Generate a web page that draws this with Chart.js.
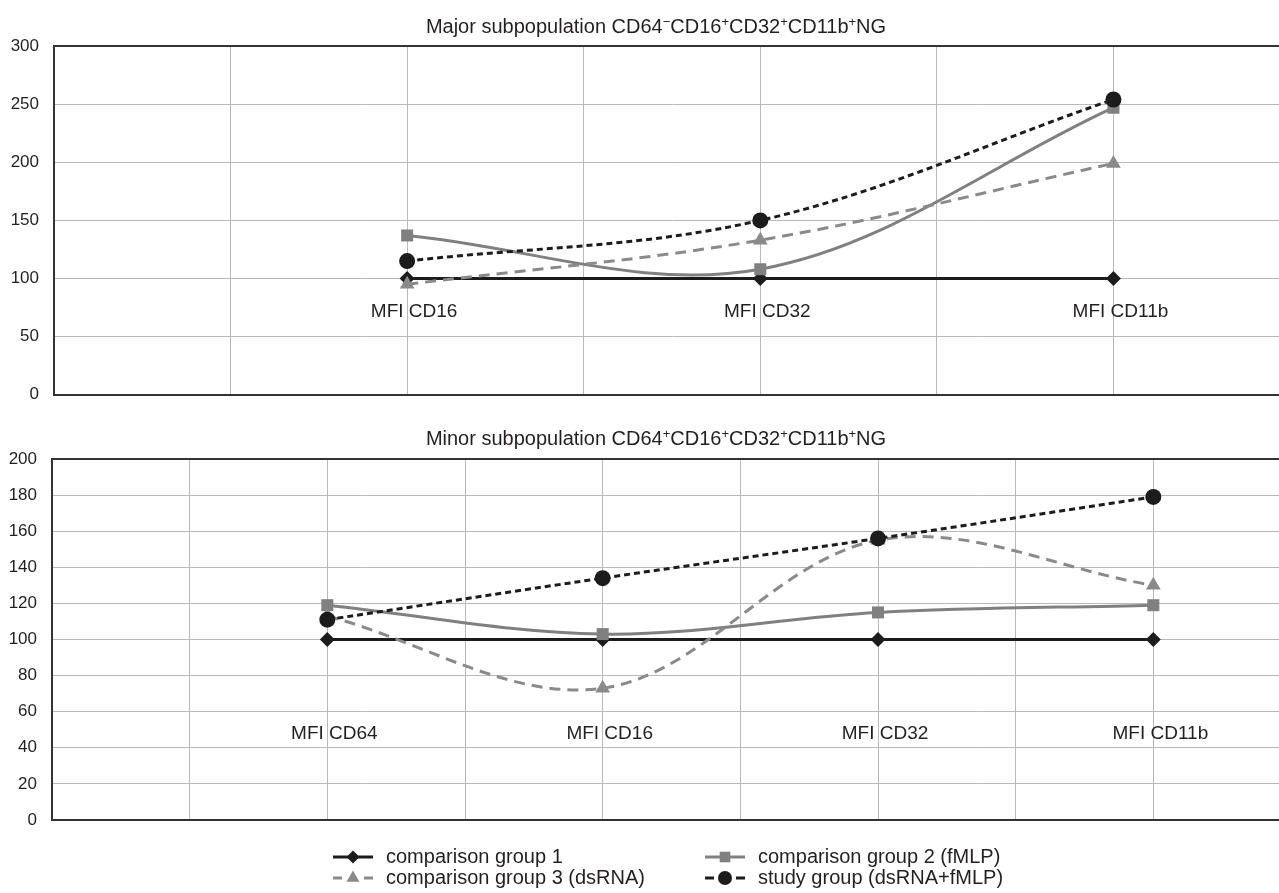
<!DOCTYPE html>
<html>
<head>
<meta charset="utf-8">
<title>MFI subpopulations</title>
<style>
  html, body { margin: 0; padding: 0; background: #fff; overflow: hidden; }
  #wrap { position: relative; width: 1279px; height: 893px; overflow: hidden; }
  canvas { position: absolute; left: 0; }
</style>
</head>
<body>
<div id="wrap">
  <canvas id="major" width="1300" height="420" style="top:0"></canvas>
  <canvas id="minor" width="1300" height="473" style="top:420px"></canvas>
</div>

<script src="https://cdn.jsdelivr.net/npm/chart.js"></script>
<script>
// major subpopulation (top panel)
const majorLabels = ["MFI CD16", "MFI CD32", "MFI CD11b"];
const majorX = [2, 4, 6];
const majorGroup1 = [100, 100, 100];
const majorGroup2 = [137, 108, 247];
const majorGroup3 = [95, 133, 199];
const majorStudy = [115, 150, 254];

// minor subpopulation (bottom panel)
const minorLabels = ["MFI CD64", "MFI CD16", "MFI CD32", "MFI CD11b"];
const minorX = [2, 4, 6, 8];
const minorGroup1 = [100, 100, 100, 100];
const minorGroup2 = [119, 103, 115, 119];
const minorGroup3 = [113, 73, 155, 130];
const minorStudy = [111, 134, 156, 179];

const seriesNames = ["comparison group 1", "comparison group 2 (fMLP)", "comparison group 3 (dsRNA)", "study group (dsRNA+fMLP)"];

const majorTitle = [["Major subpopulation CD64", false], ["\u2212", true], ["CD16", false], ["+", true], ["CD32", false], ["+", true], ["CD11b", false], ["+", true], ["NG", false]];
const minorTitle = [["Minor subpopulation CD64", false], ["+", true], ["CD16", false], ["+", true], ["CD32", false], ["+", true], ["CD11b", false], ["+", true], ["NG", false]];

const FONT = "'Liberation Sans', Arial, Helvetica, sans-serif";
const TEXT = "#231f20";

const styles = [
    { color: "#1c1c1c", dash: [], pointStyle: "rectRot", radius: 7.5 },
    { color: "#808080", dash: [], pointStyle: "rect", radius: 8.5 },
    { color: "#8a8a8a", dash: [11, 7], pointStyle: "triangle", radius: 8.5 },
    { color: "#1c1c1c", dash: [6, 4], pointStyle: "circle", radius: 8 }
];

function makeDatasets(xs, series) {
    return series.map((vals, i) => ({
        label: seriesNames[i],
        data: vals.map((v, j) => ({ x: xs[j], y: v })),
        borderColor: styles[i].color,
        backgroundColor: styles[i].color,
        borderWidth: 3,
        borderDash: styles[i].dash,
        pointStyle: styles[i].pointStyle,
        pointRadius: styles[i].radius,
        pointBorderWidth: 0,
        pointBackgroundColor: styles[i].color,
        tension: 0.35,
        order: 3 - i
    }));
}

// title with superscripts
const titlePlugin = {
    id: "supTitle",
    afterDraw(chart, args, opts) {
        const ctx = chart.ctx;
        ctx.save();
        ctx.fillStyle = TEXT;
        ctx.textBaseline = "alphabetic";
        ctx.textAlign = "left";
        let total = 0;
        opts.parts.forEach(p => {
            ctx.font = (p[1] ? 13 : 20) + "px " + FONT;
            total += ctx.measureText(p[0]).width;
        });
        let x = opts.center - total / 2;
        opts.parts.forEach(p => {
            ctx.font = (p[1] ? 13 : 20) + "px " + FONT;
            ctx.fillText(p[0], x, opts.baseline - (p[1] ? 7 : 0));
            x += ctx.measureText(p[0]).width;
        });
        ctx.restore();
    }
};

// category names inside the plot
const catPlugin = {
    id: "catLabels",
    beforeDatasetsDraw(chart, args, opts) {
        const ctx = chart.ctx;
        const xs = chart.scales.x, ys = chart.scales.y;
        ctx.save();
        ctx.fillStyle = TEXT;
        ctx.font = "19px " + FONT;
        ctx.textAlign = "center";
        ctx.textBaseline = "middle";
        opts.labels.forEach((t, i) => {
            ctx.fillText(t, xs.getPixelForValue(opts.xs[i]) + 7, ys.getPixelForValue(opts.y));
        });
        ctx.restore();
    }
};

// two-column legend under the bottom panel
const legendPlugin = {
    id: "twoColLegend",
    afterDraw(chart, args, opts) {
        if (!opts.show) return;
        const ctx = chart.ctx;
        const cols = [353, 725];
        const rows = [chart.chartArea.bottom + 37, chart.chartArea.bottom + 58];
        const place = [[0, 0], [1, 0], [0, 1], [1, 1]];
        ctx.save();
        seriesNames.forEach((name, i) => {
            const cx = cols[place[i][0]], cy = rows[place[i][1]];
            const st = styles[i];
            ctx.strokeStyle = st.color;
            ctx.fillStyle = st.color;
            ctx.lineWidth = 3;
            ctx.setLineDash([]);
            ctx.beginPath();
            if (st.dash.length) {
                ctx.moveTo(cx - 20, cy); ctx.lineTo(cx - 11, cy);
                ctx.moveTo(cx + 11, cy); ctx.lineTo(cx + 20, cy);
            } else {
                ctx.moveTo(cx - 20, cy); ctx.lineTo(cx + 20, cy);
            }
            ctx.stroke();
            Chart.helpers.drawPoint(ctx, { pointStyle: st.pointStyle, radius: st.radius - 1, rotation: 0, borderWidth: 0 }, cx, cy);
            ctx.fillStyle = TEXT;
            ctx.font = "20px " + FONT;
            ctx.textAlign = "left";
            ctx.textBaseline = "middle";
            ctx.fillText(name, cx + 33, cy);
        });
        ctx.restore();
    }
};

function buildChart(id, cfg) {
    return new Chart(document.getElementById(id), {
        type: "line",
        data: { datasets: makeDatasets(cfg.xs, cfg.series) },
        plugins: [titlePlugin, catPlugin, legendPlugin],
        options: {
            responsive: false,
            animation: false,
            layout: { padding: cfg.padding },
            plugins: {
                legend: { display: false },
                tooltip: { enabled: false },
                supTitle: { parts: cfg.title, center: 656, baseline: cfg.titleBaseline },
                catLabels: { labels: cfg.labels, xs: cfg.xs, y: cfg.labelY },
                twoColLegend: { show: cfg.legend }
            },
            scales: {
                x: {
                    type: "linear",
                    min: 0,
                    max: cfg.xMax,
                    ticks: { display: false, stepSize: 1 },
                    grid: { color: "#b9b9b9", lineWidth: 1, drawTicks: false },
                    border: { color: "#333", width: 2 }
                },
                y: {
                    min: 0,
                    max: cfg.yMax,
                    ticks: { stepSize: cfg.yStep, padding: 15, color: TEXT, font: { family: FONT, size: 17 } },
                    grid: {
                        drawTicks: false,
                        color: c => c.tick && c.tick.value === cfg.yMax ? "#333" : "#b9b9b9",
                        lineWidth: c => c.tick && c.tick.value === cfg.yMax ? 2 : 1
                    },
                    border: { color: "#333", width: 2 },
                    afterFit: s => { s.width = cfg.axisLeft; }
                }
            }
        }
    });
}

buildChart("major", {
    xs: majorX,
    series: [majorGroup1, majorGroup2, majorGroup3, majorStudy],
    labels: majorLabels,
    labelY: 71,
    xMax: 7,
    yMax: 300,
    yStep: 50,
    axisLeft: 54,
    padding: { top: 46, right: 10, bottom: 14, left: 0 },
    title: majorTitle,
    titleBaseline: 33,
    legend: false
});

buildChart("minor", {
    xs: minorX,
    series: [minorGroup1, minorGroup2, minorGroup3, minorStudy],
    labels: minorLabels,
    labelY: 48,
    xMax: 9,
    yMax: 200,
    yStep: 20,
    axisLeft: 52,
    padding: { top: 39, right: 9, bottom: 73, left: 0 },
    title: minorTitle,
    titleBaseline: 25,
    legend: true
});
</script>
</body>
</html>
